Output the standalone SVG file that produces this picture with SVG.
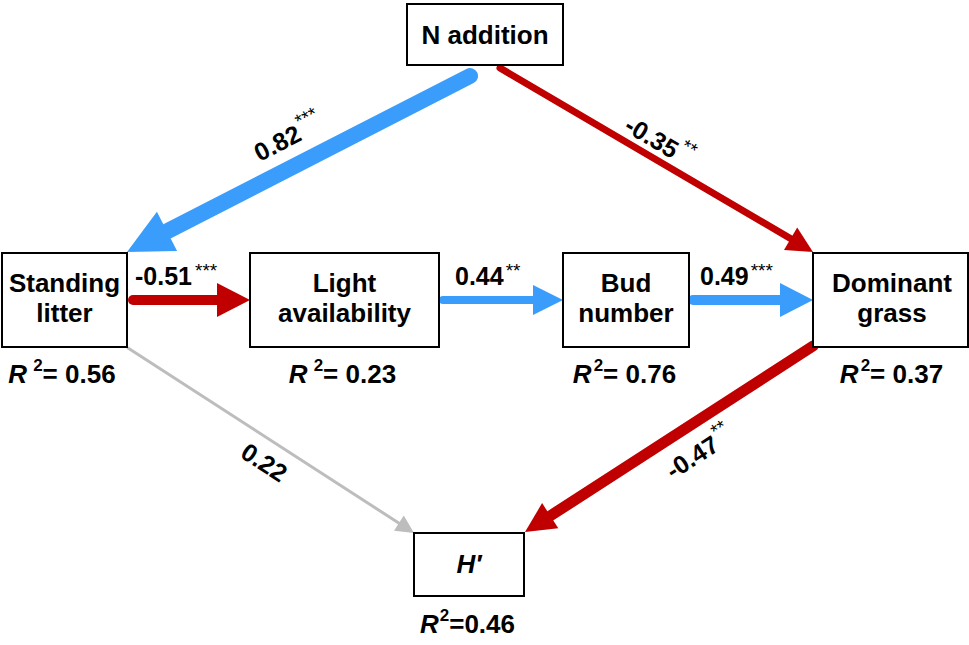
<svg xmlns="http://www.w3.org/2000/svg" width="969" height="645" viewBox="0 0 969 645">
<style>
.box{fill:#fff;stroke:#000;stroke-width:2}
.t{font-family:"Liberation Sans",Arial,sans-serif;font-weight:bold;font-size:26px;fill:#000}
.lab{font-family:"Liberation Sans",Arial,sans-serif;font-weight:bold;font-size:25px;fill:#000}
.st{font-weight:normal;font-size:19px}
.it{font-style:italic}
.sup{font-size:17px}
.blue{stroke:#3A9DFB;fill:none;stroke-linecap:round}
.red{stroke:#C00000;fill:none;stroke-linecap:round}
.gray{stroke:#BDBDBD;fill:none;stroke-linecap:round}
.hb{fill:#3A9DFB}
.hr{fill:#C00000}
.hg{fill:#BDBDBD}
</style>
<rect width="969" height="645" fill="#fff"/>
<g id="connectors">
  <line class="blue" x1="470" y1="76" x2="162.6" y2="233.6" stroke-width="16"/>
  <polygon class="hb" points="127,252 156.9,211.7 177.1,250.9"/>
  <line class="red" x1="500" y1="68" x2="793" y2="240" stroke-width="7"/>
  <polygon class="hr" points="813,252 797.2,227.6 784,250"/>
  <line class="red" x1="133" y1="300" x2="220" y2="300" stroke-width="10"/>
  <polygon class="hr" points="217,283 250,300 217,317"/>
  <line class="blue" x1="443" y1="300" x2="536" y2="300" stroke-width="8"/>
  <polygon class="hb" points="533,285 563,300 533,315"/>
  <line class="blue" x1="693" y1="300" x2="783" y2="300" stroke-width="10"/>
  <polygon class="hb" points="780,283 813,300 780,317"/>
  <line class="red" x1="813" y1="346" x2="547" y2="518" stroke-width="11"/>
  <polygon class="hr" points="525,532 542.1,503.1 558.3,528.3"/>
  <line class="gray" x1="128" y1="348" x2="401" y2="524.5" stroke-width="3"/>
  <polygon class="hg" points="414,533 403.8,515.6 394,530.8"/>
</g>
<g id="edge-labels">
  <text class="lab" transform="translate(277,143) rotate(-27.3)"><tspan x="-24" y="9">0.82</tspan><tspan class="st" dx="2" dy="-12">***</tspan></text>
  <text class="lab" transform="translate(652,137) rotate(30.4)"><tspan x="-28.5" y="9">-0.35</tspan><tspan class="st" dx="2" dy="-12">**</tspan></text>
  <text class="lab" transform="translate(692,457) rotate(-32.9)"><tspan x="-28.5" y="9">-0.47</tspan><tspan class="st" dx="2" dy="-12">**</tspan></text>
  <text class="lab" transform="translate(264,462) rotate(32.9)"><tspan x="-24" y="9">0.22</tspan></text>
  <text class="lab" x="135" y="285">-0.51<tspan class="st" dx="3" dy="-8">***</tspan></text>
  <text class="lab" x="455" y="285">0.44<tspan class="st" dx="2" dy="-8">**</tspan></text>
  <text class="lab" x="700" y="285">0.49<tspan class="st" dx="2" dy="-8">***</tspan></text>
</g>
<g id="n-addition">
  <rect class="box" x="407" y="4" width="156" height="61"/>
  <text class="t" x="485" y="44" text-anchor="middle">N addition</text>
</g>
<g id="standing-litter">
  <rect class="box" x="2" y="253" width="125" height="94"/>
  <text class="t" x="64.5" y="292" text-anchor="middle">Standing</text>
  <text class="t" x="64.5" y="322" text-anchor="middle">litter</text>
  <text class="t" x="62" y="383" text-anchor="middle"><tspan class="it">R</tspan><tspan class="sup" dx="6" dy="-12">2</tspan><tspan dy="12">= 0.56</tspan></text>
</g>
<g id="light-availability">
  <rect class="box" x="250" y="253" width="189" height="94"/>
  <text class="t" x="344.5" y="292" text-anchor="middle">Light</text>
  <text class="t" x="344.5" y="322" text-anchor="middle">availability</text>
  <text class="t" x="342.5" y="383" text-anchor="middle"><tspan class="it">R</tspan><tspan class="sup" dx="6" dy="-12">2</tspan><tspan dy="12">= 0.23</tspan></text>
</g>
<g id="bud-number">
  <rect class="box" x="563" y="253" width="126" height="94"/>
  <text class="t" x="626" y="292" text-anchor="middle">Bud</text>
  <text class="t" x="626" y="322" text-anchor="middle">number</text>
  <text class="t" x="624.5" y="383" text-anchor="middle"><tspan class="it">R</tspan><tspan class="sup" dx="2" dy="-12">2</tspan><tspan dy="12">= 0.76</tspan></text>
</g>
<g id="dominant-grass">
  <rect class="box" x="813" y="253" width="155" height="94"/>
  <text class="t" x="892" y="292" text-anchor="middle">Dominant</text>
  <text class="t" x="892" y="322" text-anchor="middle">grass</text>
  <text class="t" x="891.5" y="383" text-anchor="middle"><tspan class="it">R</tspan><tspan class="sup" dx="2" dy="-12">2</tspan><tspan dy="12">= 0.37</tspan></text>
</g>
<g id="h-prime">
  <rect class="box" x="414" y="533" width="110" height="63"/>
  <text class="t it" x="469" y="573" text-anchor="middle">H′</text>
  <text class="t" x="467.5" y="633" text-anchor="middle"><tspan class="it">R</tspan><tspan class="sup" dx="1" dy="-12">2</tspan><tspan dy="12">=0.46</tspan></text>
</g>
</svg>
